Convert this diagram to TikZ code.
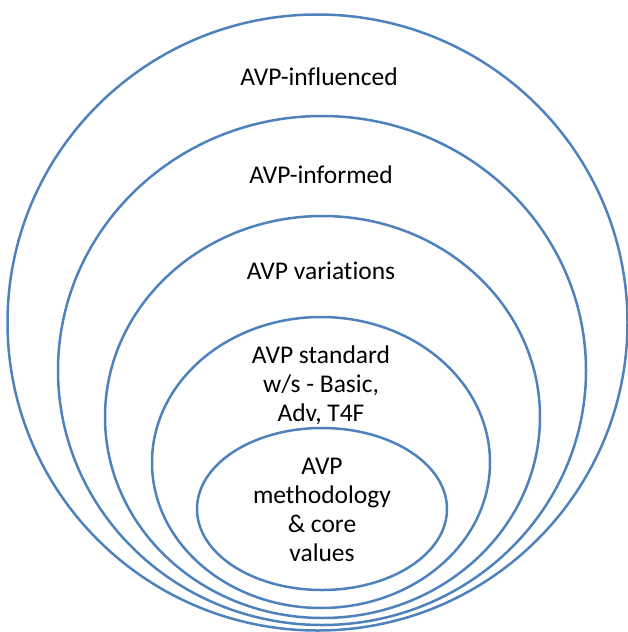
\documentclass[tikz,border=0pt]{standalone}
\usepackage{fontspec}
\setmainfont{Carlito}[Ligatures=NoCommon]
\usetikzlibrary{shapes.geometric}
\definecolor{ringblue}{HTML}{4F81BD}
\tikzset{
  ring/.style={
    ellipse,draw=ringblue,line width=2.5pt,inner sep=0pt
  },
  ringlabel/.style={
    align=center,inner sep=0pt,font=\fontsize{25.5}{29}\selectfont
  }
}

\begin{document}
\begin{tikzpicture}[x=1pt,y=-1pt]
\useasboundingbox (0,0) rectangle (628,632);
% rings, outermost first
\node[ring,minimum width=620pt,minimum height=616pt] (influenced) at (317.5,322.5) {};
\node[ring,minimum width=528pt,minimum height=509pt] (informed) at (322,370.5) {};
\node[ring,minimum width=435pt,minimum height=402pt] (variations) at (322.5,417) {};
\node[ring,minimum width=338pt,minimum height=291pt] (standard) at (321,462.5) {};
\node[ring,minimum width=250pt,minimum height=162pt] (core) at (322,509) {};
% labels
\node[ringlabel] (influencedtext) at (319,77) {AVP-influenced};
\node[ringlabel] (informedtext) at (321,175) {AVP-informed};
\node[ringlabel] (variationstext) at (321,271) {AVP variations};
\node[ringlabel] (standardtext) at (321,385) {AVP standard\\w/s - Basic,\\Adv, T4F};
\node[ringlabel] (coretext) at (322,510) {AVP\\methodology\\\& core\\values};
\end{tikzpicture}
\end{document}
